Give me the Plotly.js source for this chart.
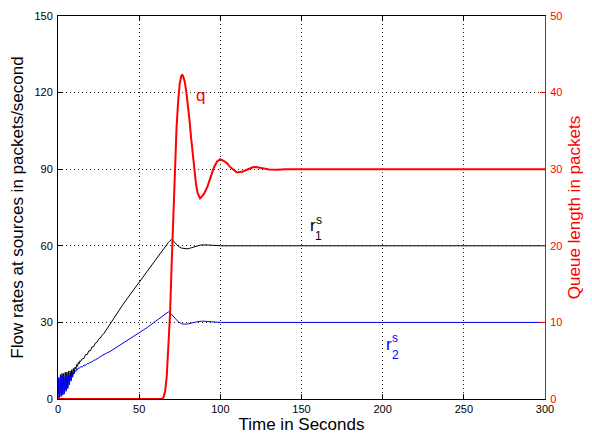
<!DOCTYPE html>
<html>
<head>
<meta charset="utf-8">
<script src="https://cdn.plot.ly/plotly-3.0.1.min.js"></script>
<style>html,body{margin:0;padding:0;background:#fff;}</style>
</head>
<body>
<div id="chart" style="width:592px;height:434px;"></div>
<script>
// Time axis (seconds) and the two source rates (packets/second)
const t1 = [0,0.5,1,1.5,2,2.5,3,3.5,4,4.5,5,5.5,6,6.5,7,7.5,8,8.5,9,9.5,10,10.5,11,11.5,12,12.5,13,13.5,14,15,16,17,18,19,20,21,22,23,24,25,26,27,28,29,30,32,35,40,45,50,55,60,65,67,68,69,69.8,70.6,72,74,76,78,80,82,85,88,92,96,100,300];
const r1 = [0,8,1,9.5,1.5,10,2,10,2.5,10.5,3.5,10.5,4.5,11,6,11,7.5,11.5,9,12,10.5,12.5,11.8,13.5,12.8,14.3,13.8,15,14.7,15.8,15.9,17.4,17.4,18.9,18.9,20.4,20.5,21.9,22.2,23.4,23.8,24.9,25.4,26.4,27.1,29,32.2,37,41.4,45.8,50.2,54.5,58.7,60.4,61.3,62,62.4,62.2,61.2,59.9,59.1,58.8,58.8,59.2,59.9,60.3,60.35,60.15,60,60];

const t2 = [0,0.5,1,1.5,2,2.5,3,3.5,4,4.5,5,5.5,6,6.5,7,7.5,8,8.5,9,9.5,10,10.5,11,11.5,12,12.5,13,14,15,16,17,18,19,20,21,22,23,24,25,26,28,30,32,36,40,45,50,55,60,64,66,67.3,68,69,70,72,74,76,78,80,83,86,89,93,97,100,300];
const r2 = [0,8.5,0.5,9,1,9,1.5,9,2,9,3,9,4,9,5.5,9.3,7,9.8,8.5,10.5,9.8,11.2,10.8,11.8,11.5,12.2,11.9,12.7,12.5,13.3,13.2,13.9,13.8,14.5,14.5,15.2,15.3,15.9,16.1,16.6,17.4,18,18.6,20.2,21.8,23.7,25.7,28,30.4,32.4,33.4,34,34.1,33.8,33.1,31.6,30.3,29.5,29.3,29.4,29.9,30.3,30.5,30.3,30.1,30,30];

// Queue length (packets)
const tq = [0,64,65,66,67,68,69,70,71,72,73,74,75,76,76.5,77,78,79,80,81,82,83,84,85,86,87,87.5,88,89,90,92,94,96,98,100,102,104,106,108,110,111,114,116,118,120,122,126,130,135,140,300];
const q  = [0,0,0.2,1.0,3.0,6.5,11,17.5,24.5,30.5,35.3,38.8,41.2,42.2,42.3,42.2,41.5,40.2,38.5,36.4,34.1,31.9,29.8,28.1,26.9,26.3,26.2,26.3,26.5,26.8,27.7,29,30.2,31,31.3,31.1,30.8,30.3,29.9,29.6,29.6,29.7,29.9,30.1,30.25,30.3,30.15,29.95,29.93,30,30];

const xTicks = [0,50,100,150,200,250,300];
const yTicks = [0,30,60,90,120,150];
const y2Ticks = [0,10,20,30,40,50];

const FONT = '"Liberation Sans", Arial, Helvetica, sans-serif';

const traces = [
  {x:t1, y:r1, type:'scatter', mode:'lines', line:{color:'#000000', width:1}, yaxis:'y', hoverinfo:'skip'},
  {x:t2, y:r2, type:'scatter', mode:'lines', line:{color:'#0000ff', width:1}, yaxis:'y', hoverinfo:'skip'},
  {x:tq, y:q, type:'scatter', mode:'lines', line:{color:'#ff0000', width:2}, yaxis:'y2', hoverinfo:'skip'}
];

const layout = {
  width:592, height:434,
  margin:{l:58, r:47, t:16, b:35, pad:0},
  paper_bgcolor:'#ffffff', plot_bgcolor:'#ffffff',
  font:{family:FONT, size:11, color:'#000'},
  showlegend:false,
  xaxis:{
    range:[0,300], tickmode:'array', tickvals:xTicks, ticktext:xTicks.map(String),
    ticks:'inside', ticklen:5, tickcolor:'#000', tickwidth:1,
    showline:true, linecolor:'#000', linewidth:1, mirror:'ticks',
    showgrid:true, gridcolor:'#222', gridwidth:1, griddash:'1px,3px',
    zeroline:false, tickfont:{size:11, color:'#000'},
    title:{text:'Time in Seconds', font:{size:17, color:'#000'}, standoff:3}
  },
  yaxis:{
    range:[0,150], tickmode:'array', tickvals:yTicks, ticktext:yTicks.map(String),
    ticks:'inside', ticklen:5, tickcolor:'#000',
    showline:true, linecolor:'#000', linewidth:1, mirror:false,
    showgrid:true, gridcolor:'#222', gridwidth:1, griddash:'1px,3px',
    zeroline:false, tickfont:{size:11, color:'#000'}, ticklabelstandoff:2,
    title:{text:'Flow rates at sources in packets/second', font:{size:17, color:'#000'}, standoff:6}
  },
  yaxis2:{
    overlaying:'y', side:'right', anchor:'x',
    range:[0,50], tickmode:'array', tickvals:y2Ticks, ticktext:y2Ticks.map(String),
    ticks:'inside', ticklen:5, tickcolor:'#ff0000',
    showline:true, linecolor:'#ff0000', linewidth:1,
    showgrid:false, zeroline:false, tickfont:{size:11, color:'#ff0000'}, ticklabelstandoff:2,
    title:{text:'Queue length in packets', font:{size:17, color:'#ff0000'}, standoff:6}
  },
  annotations:[
    {x:87.5, y:118.7, xref:'x', yref:'y', text:'q', showarrow:false, font:{size:17, color:'#ff0000', family:FONT}, xanchor:'center', yanchor:'middle'},
    {x:156.8, y:67.8, xref:'x', yref:'y', text:'r', showarrow:false, font:{size:17, color:'#000', family:FONT}, xanchor:'center', yanchor:'middle'},
    {x:160.6, y:70.2, xref:'x', yref:'y', text:'s', showarrow:false, font:{size:12, color:'#000', family:FONT}, xanchor:'center', yanchor:'middle'},
    {x:160.6, y:64.0, xref:'x', yref:'y', text:'1', showarrow:false, font:{size:12, color:'#000', family:FONT}, xanchor:'center', yanchor:'middle'},
    {x:204.2, y:21.5, xref:'x', yref:'y', text:'r', showarrow:false, font:{size:17, color:'#0000ff', family:FONT}, xanchor:'center', yanchor:'middle'},
    {x:207.6, y:23.9, xref:'x', yref:'y', text:'s', showarrow:false, font:{size:12, color:'#0000ff', family:FONT}, xanchor:'center', yanchor:'middle'},
    {x:207.9, y:17.4, xref:'x', yref:'y', text:'2', showarrow:false, font:{size:12, color:'#0000ff', family:FONT}, xanchor:'center', yanchor:'middle'}
  ]
};

Plotly.newPlot('chart', traces, layout, {staticPlot:true, displayModeBar:false});
</script>
</body>
</html>
